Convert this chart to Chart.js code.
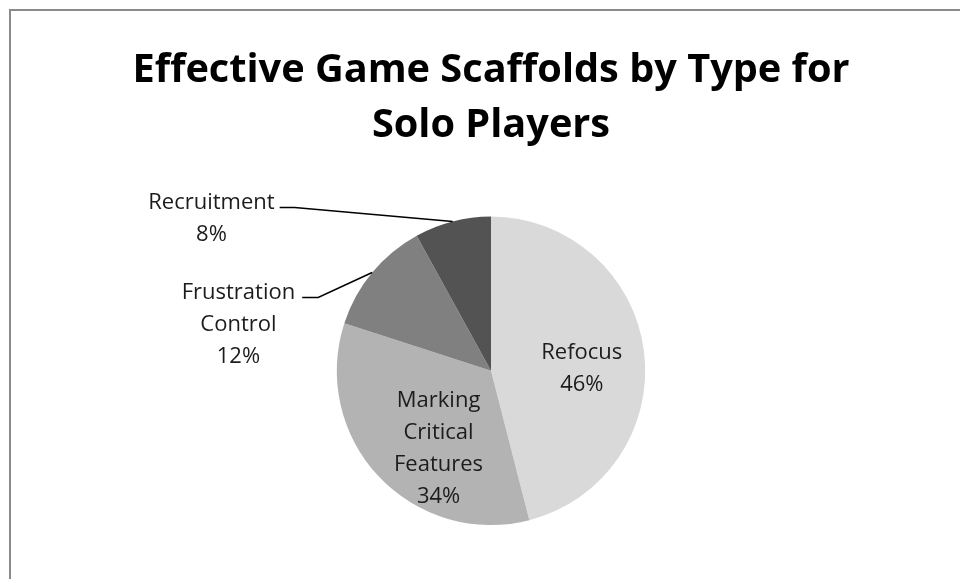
<!DOCTYPE html>
<html>
<head>
<meta charset="utf-8">
<script src="https://cdn.jsdelivr.net/npm/chart.js@4.4.0/dist/chart.umd.min.js"></script>
<style>
  html, body { margin: 0; padding: 0; background: #fff; }
  #wrap { position: relative; width: 960px; height: 579px; overflow: hidden; }
  #frame { position: absolute; left: 9px; top: 9px; width: 960px; height: 600px;
           border-left: 2px solid #8a8a8a; border-top: 2px solid #8a8a8a; }
  canvas { position: absolute; left: 0; top: 0; }
</style>
</head>
<body>
<div id="wrap">
  <div id="frame"></div>
  <canvas id="myChart" width="960" height="579"></canvas>
</div>
<script>
// data
const categories = ['Refocus', 'Marking Critical Features', 'Frustration Control', 'Recruitment'];
const shares = [46, 34, 12, 8];
const sliceColors = ['#d9d9d9', '#b3b3b3', '#808080', '#535353'];
// how each label is broken into lines
const labelLines = [['Refocus'], ['Marking', 'Critical', 'Features'], ['Frustration', 'Control'], ['Recruitment']];

// label placement (inside = along mid angle, outside = leader line)
const labelPlace = [
  { inside: true, frac: 0.6, dx: -1, dy: 8 },
  { inside: true, frac: 0.6, dx: 15, dy: 13 },
  { inside: false, elbowDx: -54, elbowDy: 25, arm: 16, gap: 7 },
  { inside: false, elbowDx: -158, elbowDy: -14, arm: 15, gap: 5 }
];

const LABEL_FONT = '22px "Open Sans"';
const LINE_H = 32;
const CAP_H = 15.7;

const pieLabels = {
  id: 'pieLabels',
  afterDatasetsDraw(chart) {
    const ctx = chart.ctx;
    const arcs = chart.getDatasetMeta(0).data;
    ctx.save();
    ctx.font = LABEL_FONT;
    ctx.fillStyle = '#1c1c1c';
    ctx.textAlign = 'center';
    ctx.textBaseline = 'alphabetic';
    arcs.forEach((arc, i) => {
      const lines = labelLines[i].concat([shares[i] + '%']);
      const p = labelPlace[i];
      const mid = (arc.startAngle + arc.endAngle) / 2;
      if (p.inside) {
        const r = arc.outerRadius * p.frac;
        const cx = arc.x + Math.cos(mid) * r + p.dx;
        const cy = arc.y + Math.sin(mid) * r + p.dy;
        lines.forEach((t, k) => {
          const y = cy - (lines.length - 1) * LINE_H / 2 + k * LINE_H + CAP_H / 2;
          ctx.fillText(t, cx, y);
        });
      } else {
        const ex = arc.x + Math.cos(mid) * arc.outerRadius;
        const ey = arc.y + Math.sin(mid) * arc.outerRadius;
        const bx = ex + p.elbowDx;
        const by = ey + p.elbowDy;
        const endX = bx - p.arm;
        ctx.beginPath();
        ctx.strokeStyle = '#000';
        ctx.lineWidth = 1.5;
        ctx.moveTo(ex, ey);
        ctx.lineTo(bx, by);
        ctx.lineTo(endX, by);
        ctx.stroke();
        const maxW = Math.max(...lines.map(t => ctx.measureText(t).width));
        const cx = endX - p.gap - maxW / 2;
        lines.forEach((t, k) => {
          ctx.fillText(t, cx, by + 2 + k * LINE_H);
        });
      }
    });
    ctx.restore();
  }
};

const ctx = document.getElementById('myChart');
new Chart(ctx, {
  type: 'pie',
  data: {
    labels: categories,
    datasets: [{
      data: shares,
      backgroundColor: sliceColors,
      borderWidth: 0
    }]
  },
  options: {
    responsive: false,
    animation: false,
    layout: { padding: { top: 0, bottom: 54, left: 22, right: 0 } },
    plugins: {
      legend: { display: false },
      tooltip: { enabled: false },
      title: {
        display: true,
        text: ['Effective Game Scaffolds by Type for', 'Solo Players'],
        color: '#000',
        font: { family: '"Open Sans"', size: 39.7, weight: 'bold', lineHeight: 1.385 },
        padding: { top: 43.6, bottom: 63 }
      }
    }
  },
  plugins: [pieLabels]
});
</script>
</body>
</html>
